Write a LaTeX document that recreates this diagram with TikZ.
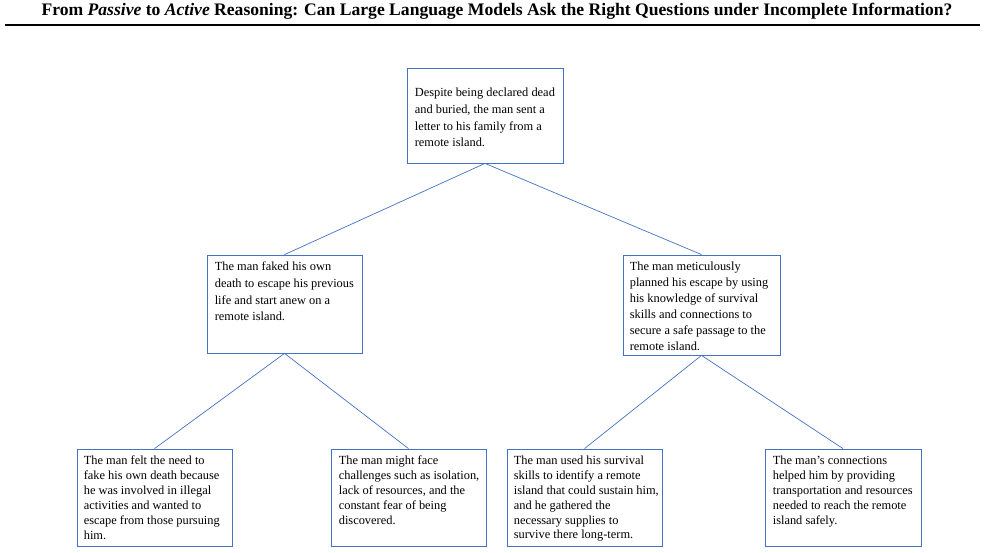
\documentclass[tikz,border=0pt]{standalone}
\usepackage{fontspec}
\setmainfont{Liberation Serif}
\definecolor{lineblue}{RGB}{68,114,196}
\begin{document}
\begin{tikzpicture}[x=1pt,y=-1pt,
  box/.style={draw=lineblue, line width=0.8pt, inner sep=0pt},
  txt/.style={anchor=north west, align=left, inner sep=0pt, font=\fontsize{12.4}{16.8}\selectfont},
  mtxt/.style={anchor=north west, align=left, inner sep=0pt, font=\fontsize{12.4}{16.1}\selectfont},
  btxt/.style={anchor=north west, align=left, inner sep=0pt, font=\fontsize{12.4}{14.9}\selectfont},
  edge/.style={draw=lineblue, line width=0.7pt}]
\useasboundingbox (0,0) rectangle (985,553);
\node[font=\fontsize{17.6}{19}\bfseries\selectfont] (title) at (497,11) {From \textit{Passive} to \textit{Active} Reasoning: Can Large Language Models Ask the Right Questions under Incomplete Information?};
\draw[line width=1.6pt] (5,25) coordinate (l1) -- (980,25) coordinate (l2);
\node[box, minimum width=156, minimum height=95] (r) at (485,115.5) {};
\node[box, minimum width=155, minimum height=98] (a) at (284.5,304) {};
\node[box, minimum width=157, minimum height=100] (b) at (701.5,305) {};
\node[box, minimum width=155, minimum height=97] (c) at (154.5,497.5) {};
\node[box, minimum width=155, minimum height=97] (d) at (408.5,497.5) {};
\node[box, minimum width=155, minimum height=97] (e) at (584.5,497.5) {};
\node[box, minimum width=156, minimum height=97] (f) at (843,497.5) {};
\node[txt] (rt) at ([xshift=8,yshift=-20]r.north west) {Despite being declared dead\\and buried, the man sent a\\letter to his family from a\\remote island.};
\node[txt] (at) at ([xshift=8,yshift=-7]a.north west) {The man faked his own\\death to escape his previous\\life and start anew on a\\remote island.};
\node[mtxt] (bt) at ([xshift=7,yshift=-7]b.north west) {The man meticulously\\planned his escape by using\\his knowledge of survival\\skills and connections to\\secure a safe passage to the\\remote island.};
\node[btxt] (ct) at ([xshift=7,yshift=-7]c.north west) {The man felt the need to\\fake his own death because\\he was involved in illegal\\activities and wanted to\\escape from those pursuing\\him.};
\node[btxt] (dt) at ([xshift=8,yshift=-7]d.north west) {The man might face\\challenges such as isolation,\\lack of resources, and the\\constant fear of being\\discovered.};
\node[btxt] (et) at ([xshift=7,yshift=-7]e.north west) {The man used his survival\\skills to identify a remote\\island that could sustain him,\\and he gathered the\\necessary supplies to\\survive there long-term.};
\node[btxt] (ft) at ([xshift=8,yshift=-7]f.north west) {The man's connections\\helped him by providing\\transportation and resources\\needed to reach the remote\\island safely.};
\draw[edge] (r.south) -- (a.north);
\draw[edge] (r.south) -- (b.north);
\draw[edge] (a.south) -- (c.north);
\draw[edge] (a.south) -- (d.north);
\draw[edge] (b.south) -- (e.north);
\draw[edge] (b.south) -- (f.north);
\end{tikzpicture}
\end{document}
